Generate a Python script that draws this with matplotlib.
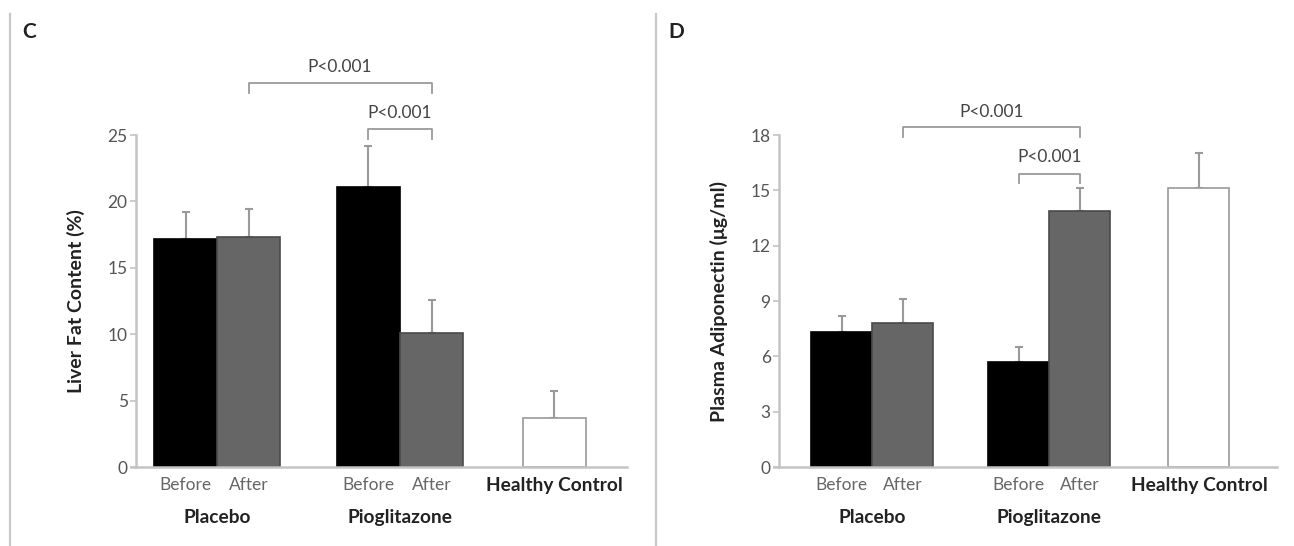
import matplotlib
matplotlib.use("Agg")
import matplotlib.pyplot as plt
from matplotlib.lines import Line2D

plt.rcParams['font.family'] = ['Lato', 'DejaVu Sans']

# data
bar_labels = ["Before", "After", "Before", "After", "Healthy Control"]
groups = ["Placebo", "Pioglitazone"]

liver_fat = [17.2, 17.3, 21.1, 10.1, 3.7]
liver_fat_err = [2.0, 2.1, 3.1, 2.5, 2.0]

adiponectin = [7.3, 7.8, 5.7, 13.9, 15.1]
adiponectin_err = [0.9, 1.3, 0.8, 1.2, 1.9]

# bar layout (in bar widths)
xpos = [0, 1, 2.9, 3.9, 5.85]
colors = ["black", "#666666", "black", "#666666", "white"]
edges = ["black", "#4a4a4a", "black", "#4a4a4a", "#999999"]

GREY = "#9a9a9a"
AX_GREY = "#c4c4c4"

fig = plt.figure(figsize=(12.94, 5.46), dpi=100)

# panel frame lines
for xf in (10 / 1294, 656 / 1294):
    fig.add_artist(Line2D([xf, xf], [0, 1 - 14 / 546], color="#c8c8c8", lw=1.6))


def panel(rect, vals, errs, yticks, ylabel, letter, letter_x, xlim, brackets):
    ax = fig.add_axes(rect)
    ax.bar(xpos, vals, width=1.0, color=colors, edgecolor=edges, linewidth=1.2,
           zorder=2)
    ax.errorbar(xpos, vals, yerr=[[0] * len(vals), errs], fmt="none",
                ecolor=GREY, elinewidth=1.5, capsize=3, capthick=1.5, zorder=1)
    ax.set_xlim(*xlim)
    ax.set_ylim(0, yticks[-1])
    ax.set_yticks(yticks)
    ax.set_xticks([])
    for s in ("top", "right"):
        ax.spines[s].set_visible(False)
    for s in ("left", "bottom"):
        ax.spines[s].set_color(AX_GREY)
        ax.spines[s].set_linewidth(1.8)
    ax.spines["bottom"].set_bounds(xlim[0] - 0.08, xlim[1])
    ax.tick_params(axis="y", length=4, width=1.2, color=AX_GREY,
                   labelcolor="#555555", labelsize=12.5, pad=2)
    ax.set_ylabel(ylabel, fontsize=14, fontweight="bold", color="#222222",
                  labelpad=16)

    tr = ax.get_xaxis_transform()
    for i in range(4):
        ax.text(xpos[i], -0.055, bar_labels[i], transform=tr, ha="center",
                va="center", fontsize=12.5, color="#666666")
    ax.text(xpos[4], -0.055, bar_labels[4], transform=tr, ha="center",
            va="center", fontsize=13.8, fontweight="bold", color="#222222")
    ax.text((xpos[0] + xpos[1]) / 2, -0.153, groups[0], transform=tr,
            ha="center", va="center", fontsize=13.8, fontweight="bold",
            color="#222222")
    ax.text((xpos[2] + xpos[3]) / 2, -0.153, groups[1], transform=tr,
            ha="center", va="center", fontsize=13.8, fontweight="bold",
            color="#222222")

    for i0, i1, yb, ytick, ytxt in brackets:
        ax.plot([xpos[i0], xpos[i0], xpos[i1], xpos[i1]],
                [ytick, yb, yb, ytick], color=GREY, lw=1.3, clip_on=False)
        ax.text((xpos[i0] + xpos[i1]) / 2, ytxt, "P<0.001", ha="center",
                va="center", fontsize=12.5, color="#444444", clip_on=False)

    fig.text(letter_x, 1 - 32 / 546, letter, fontsize=15, fontweight="bold",
             ha="left", va="center", color="#222222")
    return ax


bottom = 1 - 467 / 546
height = 332 / 546

panel([136 / 1294, bottom, 491 / 1294, height], liver_fat, liver_fat_err,
      [0, 5, 10, 15, 20, 25], "Liver Fat Content (%)", "C", 22 / 1294,
      (-0.786, 7.0),
      [(1, 3, 28.9, 28.2, 30.1), (2, 3, 25.45, 24.7, 26.65)])

panel([779 / 1294, bottom, 498 / 1294, height], adiponectin, adiponectin_err,
      [0, 3, 6, 9, 12, 15, 18], "Plasma Adiponectin (\u03bcg/ml)", "D",
      668 / 1294, (-1.03, 7.13),
      [(1, 3, 18.44, 17.9, 19.25), (2, 3, 15.9, 15.4, 16.8)])

fig.savefig("out.png", dpi=100)
